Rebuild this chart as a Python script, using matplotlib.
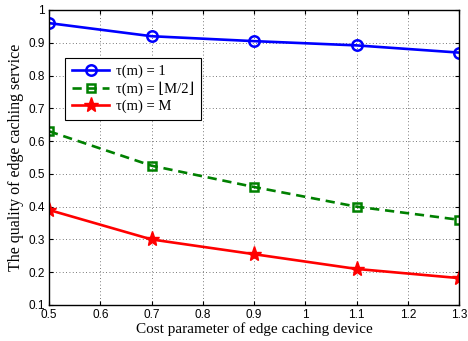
import matplotlib
matplotlib.use("Agg")
import matplotlib.pyplot as plt

# data
cost = [0.5, 0.7, 0.9, 1.1, 1.3]
q_one = [0.960, 0.920, 0.905, 0.892, 0.870]
q_half = [0.630, 0.525, 0.460, 0.400, 0.360]
q_all = [0.390, 0.300, 0.255, 0.210, 0.182]

labels = ["τ(m) = 1", "τ(m) = ⌊M/2⌋", "τ(m) = M"]
serif = ["Liberation Serif", "DejaVu Serif"]

fig = plt.figure(figsize=(4.68, 3.41), dpi=100)
ax = fig.add_axes([0.1047, 0.1056, 0.8763, 0.8651])

ax.plot(cost, q_one, color="blue", marker="o", markersize=7.5, markerfacecolor="none",
        markeredgewidth=1.8, linewidth=1.9, label=labels[0])
ax.plot(cost, q_half, color="green", marker="s", markersize=5.5, markerfacecolor="none",
        markeredgewidth=1.8, linewidth=1.9, linestyle=(0, (3.5, 2.2)), label=labels[1])
ax.plot(cost, q_all, color="red", marker="*", markersize=11,
        linewidth=1.9, label=labels[2])

ax.set_xlim(0.5, 1.3)
ax.set_ylim(0.1, 1.0)
ax.set_xticks([0.5, 0.6, 0.7, 0.8, 0.9, 1.0, 1.1, 1.2, 1.3])
ax.set_xticklabels(["0.5", "0.6", "0.7", "0.8", "0.9", "1", "1.1", "1.2", "1.3"])
ax.set_yticks([0.1, 0.2, 0.3, 0.4, 0.5, 0.6, 0.7, 0.8, 0.9, 1.0])
ax.set_yticklabels(["0.1", "0.2", "0.3", "0.4", "0.5", "0.6", "0.7", "0.8", "0.9", "1"])
ax.tick_params(direction="in", top=True, right=True, labelsize=8.5, length=3, pad=3)
for lab in ax.get_xticklabels() + ax.get_yticklabels():
    lab.set_family("Liberation Sans")

ax.grid(True, linestyle=(0, (1, 3)), color="black", linewidth=0.6, alpha=0.7)
for s in ax.spines.values():
    s.set_linewidth(1.0)

ax.set_xlabel("Cost parameter of edge caching device", family=serif, fontsize=11, labelpad=1)
ax.set_ylabel("The quality of edge caching service", family=serif, fontsize=11.5, labelpad=3)

leg = ax.legend(loc="upper left", bbox_to_anchor=(0.039, 0.837), borderaxespad=0,
                prop={"family": serif, "size": 10.5},
                fancybox=False, framealpha=1, edgecolor="black", borderpad=0.45,
                handlelength=2.6, handletextpad=0.45, labelspacing=0.25)
leg.get_frame().set_linewidth(0.8)

fig.savefig("out.png", dpi=100)
